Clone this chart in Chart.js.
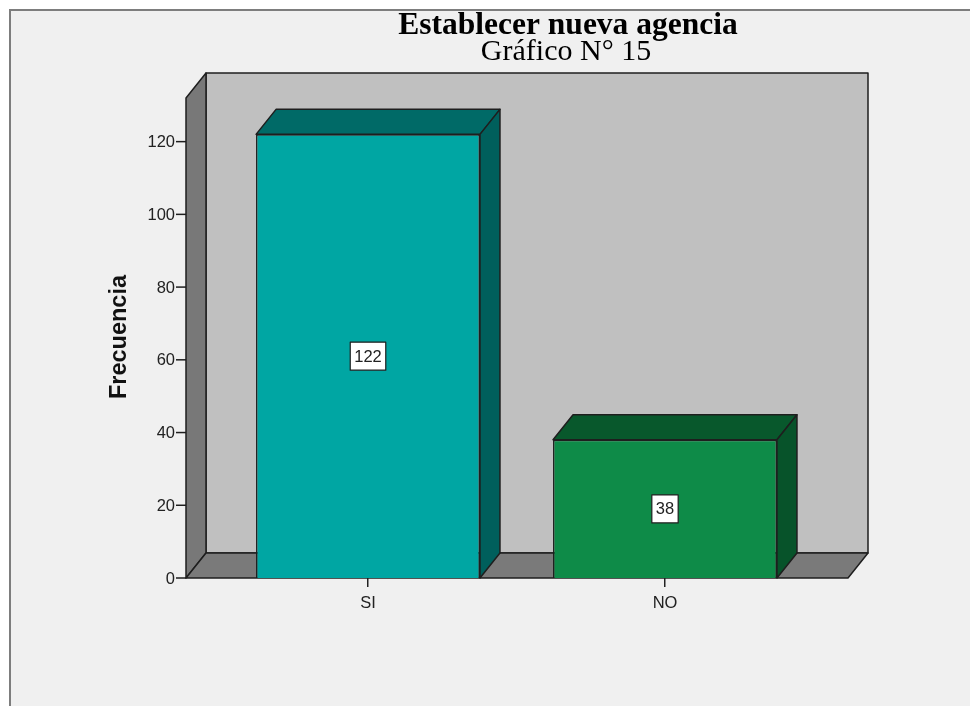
<!DOCTYPE html>
<html>
<head>
<meta charset="utf-8">
<script src="https://cdn.jsdelivr.net/npm/chart.js@4.4.1/dist/chart.umd.min.js"></script>
<style>
  html, body { margin: 0; padding: 0; background: #fff; }
  canvas { display: block; }
</style>
</head>
<body>
<canvas id="grafico" width="970" height="706"></canvas>
<script>
// datos del gráfico
const categorias = ['SI', 'NO'];
const frecuencias = [122, 38];
const coloresFrente = ['#00a6a3', '#0e8b48'];
const coloresTapa = ['#006a67', '#08582c'];
const coloresLado = ['#005f5c', '#07532a'];
const tituloTexto = 'Establecer nueva agencia';
const subtituloTexto = 'Gráfico N° 15';
const ejeYTexto = 'Frecuencia';
const ejeYMax = 132;
const ejeYPaso = 20;

const PROF_X = 20, PROF_Y = 25;   // profundidad del efecto 3D
const MARGEN_IZQ = 33.5, MARGEN_DER = 34.5;  // piso más ancho que las barras
const LINEA = '#1e1e1e';
const FUENTE = "'Liberation Sans', Arial, sans-serif";
const FUENTE_TIT = "'Liberation Serif', 'Times New Roman', serif";

function poligono(ctx, pts, relleno) {
  ctx.beginPath();
  ctx.moveTo(pts[0][0], pts[0][1]);
  for (let i = 1; i < pts.length; i++) ctx.lineTo(pts[i][0], pts[i][1]);
  ctx.closePath();
  ctx.fillStyle = relleno;
  ctx.fill();
  ctx.stroke();
}

const fondo3d = {
  id: 'fondo3d',
  beforeDraw(chart) {
    const ctx = chart.ctx;
    ctx.save();
    ctx.fillStyle = '#ffffff';
    ctx.fillRect(0, 0, chart.width, chart.height);
    ctx.fillStyle = '#f0f0f0';
    ctx.fillRect(10, 10, chart.width - 10, chart.height - 10);
    ctx.strokeStyle = '#7d7d7d';
    ctx.lineWidth = 2;
    ctx.beginPath();
    ctx.moveTo(10, chart.height);
    ctx.lineTo(10, 10);
    ctx.lineTo(chart.width, 10);
    ctx.stroke();

    // títulos
    ctx.fillStyle = '#000';
    ctx.textAlign = 'center';
    ctx.textBaseline = 'alphabetic';
    ctx.font = 'bold 31.5px ' + FUENTE_TIT;
    ctx.fillText(tituloTexto, 568, 34);
    ctx.font = '30px ' + FUENTE_TIT;
    ctx.fillText(subtituloTexto, 566, 60);

    // título del eje Y
    ctx.translate(120, 337);
    ctx.rotate(-Math.PI / 2);
    ctx.font = 'bold 23.5px ' + FUENTE;
    ctx.textBaseline = 'middle';
    ctx.fillStyle = '#111';
    ctx.fillText(ejeYTexto, 0, 0);
    ctx.restore();
  },
  beforeDatasetsDraw(chart) {
    const ctx = chart.ctx;
    const y = chart.scales.y;
    const area = chart.chartArea;
    const L = area.left - MARGEN_IZQ, R = area.right + MARGEN_DER;
    const B = y.getPixelForValue(0), T = y.getPixelForValue(ejeYMax);
    ctx.save();
    ctx.strokeStyle = LINEA;
    ctx.lineWidth = 1.5;
    ctx.lineJoin = 'round';
    // pared del fondo, pared izquierda y piso
    poligono(ctx, [[L + PROF_X, T - PROF_Y], [R + PROF_X, T - PROF_Y], [R + PROF_X, B - PROF_Y], [L + PROF_X, B - PROF_Y]], '#c0c0c0');
    poligono(ctx, [[L, B], [L, T], [L + PROF_X, T - PROF_Y], [L + PROF_X, B - PROF_Y]], '#787878');
    poligono(ctx, [[L, B], [L + PROF_X, B - PROF_Y], [R + PROF_X, B - PROF_Y], [R, B]], '#7a7a7a');

    // marcas y etiquetas del eje Y
    ctx.font = '16.5px ' + FUENTE;
    ctx.fillStyle = '#222';
    ctx.textAlign = 'right';
    ctx.textBaseline = 'middle';
    y.ticks.forEach(t => {
      const py = y.getPixelForValue(t.value);
      ctx.beginPath();
      ctx.moveTo(L - 10, py);
      ctx.lineTo(L, py);
      ctx.stroke();
      ctx.fillText(String(t.value), L - 11, py + 1);
    });
    ctx.restore();
  },
  afterDatasetsDraw(chart) {
    const ctx = chart.ctx;
    const meta = chart.getDatasetMeta(0);
    ctx.save();
    ctx.strokeStyle = LINEA;
    ctx.lineWidth = 1.5;
    ctx.lineJoin = 'round';
    meta.data.forEach((barra, i) => {
      const p = barra.getProps(['x', 'y', 'base', 'width'], true);
      const izq = p.x - p.width / 2, der = p.x + p.width / 2;
      poligono(ctx, [[izq, p.y], [izq + PROF_X, p.y - PROF_Y], [der + PROF_X, p.y - PROF_Y], [der, p.y]], coloresTapa[i]);
      poligono(ctx, [[der, p.y], [der + PROF_X, p.y - PROF_Y], [der + PROF_X, p.base - PROF_Y], [der, p.base]], coloresLado[i]);

      // etiqueta con el valor
      const texto = String(frecuencias[i]);
      ctx.font = '16.5px ' + FUENTE;
      const w = ctx.measureText(texto).width + 8, h = 28;
      const cy = (p.y + p.base) / 2;
      ctx.fillStyle = '#ffffff';
      ctx.lineWidth = 1.2;
      ctx.fillRect(p.x - w / 2, cy - h / 2, w, h);
      ctx.strokeRect(p.x - w / 2, cy - h / 2, w, h);
      ctx.fillStyle = '#222';
      ctx.textAlign = 'center';
      ctx.textBaseline = 'middle';
      ctx.fillText(texto, p.x, cy + 1);
      ctx.lineWidth = 1.5;
    });
    ctx.restore();
  }
};

new Chart(document.getElementById('grafico'), {
  type: 'bar',
  data: {
    labels: categorias,
    datasets: [{
      data: frecuencias,
      backgroundColor: coloresFrente,
      borderColor: LINEA,
      borderWidth: 1.5,
      barPercentage: 0.754,
      categoryPercentage: 1
    }]
  },
  options: {
    responsive: false,
    animation: false,
    devicePixelRatio: 1,
    layout: { padding: { top: 98, left: 219.5, right: 156.5, bottom: 0 } },
    plugins: {
      legend: { display: false },
      tooltip: { enabled: false },
      title: { display: false }
    },
    scales: {
      x: {
        offset: true,
        grid: { display: true, drawOnChartArea: false, offset: false, tickLength: 9, color: '#222', lineWidth: 1.5 },
        border: { display: false },
        ticks: { color: '#222', font: { family: FUENTE, size: 16.5 }, padding: 7 },
        afterFit(s) { s.height = 128; }
      },
      y: {
        display: false,
        min: 0,
        max: ejeYMax,
        ticks: { stepSize: ejeYPaso, includeBounds: false }
      }
    }
  },
  plugins: [fondo3d]
});
</script>
</body>
</html>
